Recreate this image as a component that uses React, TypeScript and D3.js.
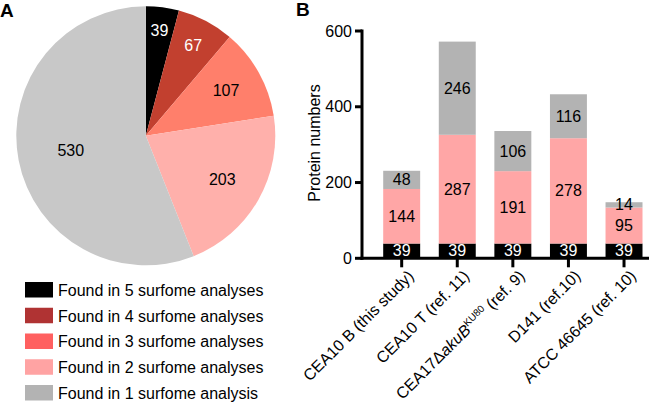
import React from "react";
import * as d3 from "d3";

// ---- Data ----
const pieCategories = [
  "Found in 5 surfome analyses",
  "Found in 4 surfome analyses",
  "Found in 3 surfome analyses",
  "Found in 2 surfome analyses",
  "Found in 1 surfome analysis",
];
const pieValues = [39, 67, 107, 203, 530];

const strains = [
  "CEA10 B (this study)",
  "CEA10 T (ref. 11)",
  "CEA17akuB (ref. 9)",
  "D141 (ref.10)",
  "ATCC 46645 (ref. 10)",
];
const coreCounts = [39, 39, 39, 39, 39];
const sharedCounts = [144, 287, 191, 278, 95];
const otherCounts = [48, 246, 106, 116, 14];
const yTicks = [0, 200, 400, 600];

// ---- Styles / layout ----
const FONT = "'Liberation Sans', Arial, Helvetica, sans-serif";
const pieColors = ["#000000", "#C2402F", "#FF7F6B", "#FFB0AB", "#C8C8C8"];
const legendColors = ["#000000", "#B03333", "#FF6060", "#FFA3A3", "#B3B3B3"];
const pieTextColors = ["#fff", "#fff", "#000", "#000", "#000"];
const pieLabelRadiusFrac = [0.82, 0.79, 0.71, 0.68, 0.59];
const barColors = ["#000000", "#FFA6A6", "#B3B3B3"];
const barTextColors = ["#fff", "#000", "#000"];

export default function App() {
  const cx = 145.8, cy = 135.8, R = 129.5;
  const pieGen = d3.pie<number>().sort(null).value((d) => d);
  const arcs = pieGen(pieValues);
  const arcGen = d3.arc<any>().innerRadius(0).outerRadius(R);

  // bar chart
  const y = d3.scaleLinear().domain([0, 600]).range([258.3, 31]);
  const x = d3
    .scaleBand<string>()
    .domain(strains)
    .range([383.2, 642.5])
    .paddingInner(0.335)
    .paddingOuter(0);
  const table = strains.map((s, i) => ({
    strain: s,
    core: coreCounts[i],
    shared: sharedCounts[i],
    other: otherCounts[i],
  }));
  const keys = ["core", "shared", "other"];
  const stacked = d3.stack<any>().keys(keys)(table);
  const axisX = 362;
  const axisY = y(0);

  const renderStrainLabel = (s: string, i: number) => {
    if (i === 2) {
      return (
        <>
          <tspan>CEA17Δ</tspan>
          <tspan fontStyle="italic">akuB</tspan>
          <tspan fontSize={10} dy={-6}>KU80</tspan>
          <tspan dy={6}> (ref. 9)</tspan>
        </>
      );
    }
    return s;
  };

  return (
    <svg
      width={650}
      height={402}
      style={{ position: "absolute", left: 0, top: 0, fontFamily: FONT }}
    >
      <rect width={650} height={402} fill="#fff" />
      {/* Panel labels */}
      <text x={0} y={16.5} fontSize={19} fontWeight="bold">A</text>
      <text x={296} y={15.5} fontSize={19} fontWeight="bold">B</text>

      {/* Pie */}
      <g transform={`translate(${cx},${cy})`}>
        {arcs.map((a, i) => (
          <path key={i} d={arcGen(a) as string} fill={pieColors[i]} />
        ))}
        {arcs.map((a, i) => {
          const mid = (a.startAngle + a.endAngle) / 2;
          const r = R * pieLabelRadiusFrac[i];
          return (
            <text
              key={"l" + i}
              x={Math.sin(mid) * r}
              y={-Math.cos(mid) * r}
              textAnchor="middle"
              dominantBaseline="central"
              fontSize={16}
              fill={pieTextColors[i]}
            >
              {pieValues[i]}
            </text>
          );
        })}
      </g>

      {/* Legend */}
      {pieCategories.map((c, i) => (
        <g key={c} transform={`translate(25,${282 + i * 25.75})`}>
          <rect width={28} height={15.5} fill={legendColors[i]} />
          <text x={33} y={13.8} fontSize={16} fill="#000">{c}</text>
        </g>
      ))}

      {/* Bars */}
      {stacked.map((layer, li) =>
        layer.map((seg, bi) => (
          <rect
            key={`${li}-${bi}`}
            x={x(strains[bi])}
            y={y(seg[1])}
            width={x.bandwidth()}
            height={y(seg[0]) - y(seg[1])}
            fill={barColors[li]}
          />
        ))
      )}
      {stacked.map((layer, li) =>
        layer.map((seg, bi) => (
          <text
            key={`t${li}-${bi}`}
            x={(x(strains[bi]) as number) + x.bandwidth() / 2}
            y={(y(seg[0]) + y(seg[1])) / 2}
            textAnchor="middle"
            dominantBaseline="central"
            fontSize={16}
            fill={barTextColors[li]}
          >
            {seg[1] - seg[0]}
          </text>
        ))
      )}

      {/* Y axis */}
      <line x1={axisX} x2={axisX} y1={y(600) - 1.5} y2={axisY + 1.5} stroke="#000" strokeWidth={3} />
      {yTicks.map((t) => (
        <g key={t}>
          <line x1={355} x2={axisX} y1={y(t)} y2={y(t)} stroke="#000" strokeWidth={3} />
          <text x={352} y={y(t)} textAnchor="end" dominantBaseline="central" fontSize={16}>
            {t}
          </text>
        </g>
      ))}
      <text
        transform={`translate(319.5,143) rotate(-90)`}
        textAnchor="middle"
        fontSize={16}
      >
        Protein numbers
      </text>

      {/* X axis */}
      <line x1={axisX - 1.5} x2={649} y1={axisY} y2={axisY} stroke="#000" strokeWidth={3} />
      {strains.map((s, i) => {
        const cxb = (x(s) as number) + x.bandwidth() / 2;
        return (
          <g key={s}>
            <line x1={cxb} x2={cxb} y1={axisY} y2={axisY + 9} stroke="#000" strokeWidth={3} />
            <text
              transform={`translate(${cxb + 13},${277}) rotate(-45)`}
              textAnchor="end"
              fontSize={16}
            >
              {renderStrainLabel(s, i)}
            </text>
          </g>
        );
      })}
    </svg>
  );
}
